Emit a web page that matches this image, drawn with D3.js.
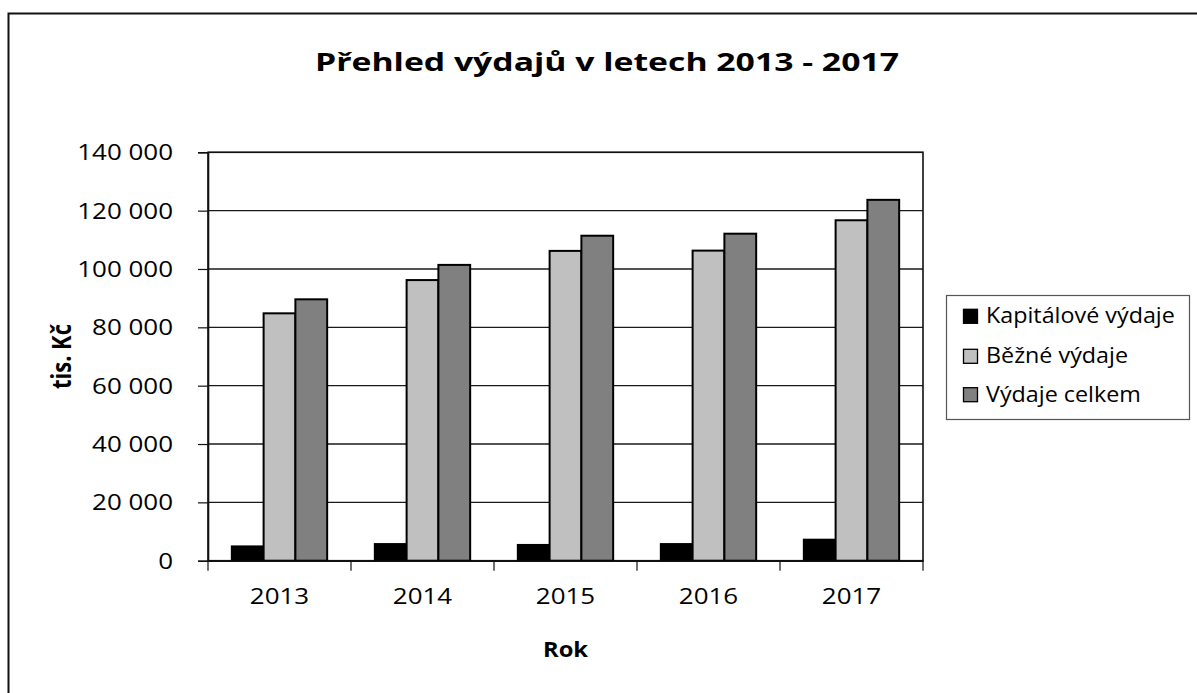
<!DOCTYPE html>
<html>
<head>
<meta charset="utf-8">
<script src="https://cdn.jsdelivr.net/npm/d3@7"></script>
<style>
    body { margin: 0; background: #fff; }
    text { font-family: "Open Sans", sans-serif; fill: #000; }
</style>
</head>
<body>
<div id="chart"></div>
<script>
// data (tis. Kč)
const years = ["2013", "2014", "2015", "2016", "2017"];
const seriesNames = ["Kapitálové výdaje", "Běžné výdaje", "Výdaje celkem"];
const kapitalove = [4900, 5700, 5400, 5700, 7200];
const bezne = [84800, 96200, 106200, 106300, 116700];
const celkem = [89600, 101400, 111400, 112100, 123700];
const yTicks = [0, 20000, 40000, 60000, 80000, 100000, 120000, 140000];
const colors = ["#000000", "#c0c0c0", "#808080"];

const width = 1197;
const height = 693;
const plot = {left: 208, right: 923, top: 152.3, bottom: 560.7};

const svg = d3.select('#chart').append('svg')
    .attr('width', width)
    .attr('height', height);

// outer chart border (runs off the picture on right and bottom)
svg.append('rect')
    .attr('x', 8.5).attr('y', 13.5)
    .attr('width', 1300).attr('height', 800)
    .attr('fill', 'none')
    .attr('stroke', '#111')
    .attr('stroke-width', 2);

const x0 = d3.scaleBand().domain(years).range([plot.left, plot.right]).padding(0);
const x1 = d3.scaleBand().domain(seriesNames).range([0, x0.bandwidth()])
    .paddingInner(0).paddingOuter(0.75);
const y = d3.scaleLinear().domain([0, 140000]).range([plot.bottom, plot.top]);

const fmt = v => d3.format(",")(v).replace(/,/g, " ");

// text with horizontal stretch, the original is wider than tall
function stretchText(g, x, yy, txt, sx, anchor) {
    return g.append('text')
        .attr('transform', `translate(${x},${yy}) scale(${sx},1)`)
        .attr('text-anchor', anchor || 'middle')
        .text(txt);
}

// gridlines
svg.append('g').selectAll('line')
    .data(yTicks)
    .enter().append('line')
    .attr('x1', plot.left).attr('x2', plot.right)
    .attr('y1', d => y(d)).attr('y2', d => y(d))
    .attr('stroke', '#1a1a1a')
    .attr('stroke-width', 1.3);

// plot area border
svg.append('rect')
    .attr('x', plot.left).attr('y', plot.top)
    .attr('width', plot.right - plot.left).attr('height', plot.bottom - plot.top)
    .attr('fill', 'none')
    .attr('stroke', '#111')
    .attr('stroke-width', 1.6);

// bars
const rows = years.map((yr, i) => ({year: yr, vals: [kapitalove[i], bezne[i], celkem[i]]}));
const groups = svg.append('g').selectAll('g')
    .data(rows)
    .enter().append('g')
    .attr('transform', d => `translate(${x0(d.year)},0)`);

groups.selectAll('rect')
    .data(d => d.vals.map((v, j) => ({name: seriesNames[j], v: v, j: j})))
    .enter().append('rect')
    .attr('x', d => x1(d.name))
    .attr('y', d => y(d.v))
    .attr('width', x1.bandwidth())
    .attr('height', d => y(0) - y(d.v))
    .attr('fill', d => colors[d.j])
    .attr('stroke', '#000')
    .attr('stroke-width', 2);

// y axis
const yAxis = svg.append('g').attr('transform', `translate(${plot.left},0)`)
    .call(d3.axisLeft(y).tickValues(yTicks).tickSize(10).tickFormat(''));
yAxis.select('.domain').attr('stroke', '#111').attr('stroke-width', 1.6);
yAxis.selectAll('.tick line').attr('stroke', '#111').attr('stroke-width', 1.2);
yTicks.forEach(t => {
    stretchText(svg, 173, y(t) + 8, fmt(t), 1.18, 'end')
        .style('font-size', '22px');
});

// x axis
const xAxis = svg.append('g').attr('transform', `translate(0,${plot.bottom})`)
    .call(d3.axisBottom(x0).tickSize(0).tickFormat(''));
xAxis.select('.domain').attr('stroke', '#111').attr('stroke-width', 1.6);
const bounds = years.map(d => x0(d)).concat([plot.right]);
svg.append('g').selectAll('line')
    .data(bounds)
    .enter().append('line')
    .attr('x1', d => d).attr('x2', d => d)
    .attr('y1', plot.bottom).attr('y2', plot.bottom + 10)
    .attr('stroke', '#111')
    .attr('stroke-width', 1.2);
years.forEach(yr => {
    stretchText(svg, x0(yr) + x0.bandwidth() / 2, 604, yr, 1.18)
        .style('font-size', '22px');
});

// axis titles
stretchText(svg, (plot.left + plot.right) / 2, 656.5, 'Rok', 1.08)
    .style('font-size', '22px').style('font-weight', 'bold');
svg.append('text')
    .attr('transform', `translate(71,${(plot.top + plot.bottom) / 2}) scale(1.2,1) rotate(-90)`)
    .attr('text-anchor', 'middle')
    .style('font-size', '22px').style('font-weight', 'bold')
    .text('tis. Kč');

// title
stretchText(svg, 607, 70.7, 'Přehled výdajů v letech 2013 - 2017', 1.35)
    .style('font-size', '25px').style('font-weight', 'bold');

// legend
const legend = svg.append('g');
legend.append('rect')
    .attr('x', 946.5).attr('y', 295.5)
    .attr('width', 243).attr('height', 124)
    .attr('fill', '#fff')
    .attr('stroke', '#555')
    .attr('stroke-width', 1.2);
const legY = [323.3, 363.3, 401.7];
seriesNames.forEach((name, i) => {
    legend.append('rect')
        .attr('x', 963.5).attr('y', legY[i] - 14)
        .attr('width', 14).attr('height', 14)
        .attr('fill', colors[i])
        .attr('stroke', '#000')
        .attr('stroke-width', 1.3);
    stretchText(legend, 986, legY[i], name, 1.06, 'start')
        .style('font-size', '22px');
});
</script>
</body>
</html>
